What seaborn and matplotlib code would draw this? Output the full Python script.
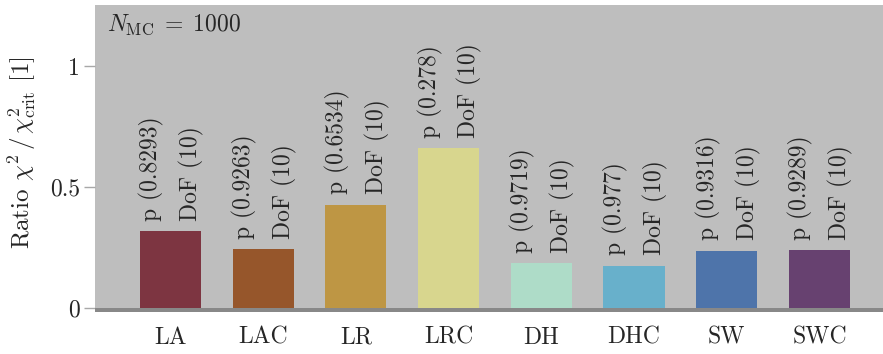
import matplotlib
matplotlib.use("Agg")
import matplotlib.pyplot as plt
import seaborn as sns
import pandas as pd

# Goodness-of-fit summary per model
models = ["LA", "LAC", "LR", "LRC", "DH", "DHC", "SW", "SWC"]
ratios = [0.318, 0.244, 0.426, 0.661, 0.185, 0.174, 0.236, 0.240]
p_values = ["0.8293", "0.9263", "0.6534", "0.278", "0.9719", "0.977", "0.9316", "0.9289"]
dof = [10, 10, 10, 10, 10, 10, 10, 10]
colors = ["#7d3541", "#96562b", "#be9644", "#d8d68e",
          "#aedcc8", "#68b0cb", "#4e74aa", "#674170"]
n_mc = 1000

sns.set_theme(style="white")
plt.rcParams["font.family"] = ["cmr10", "DejaVu Serif"]
plt.rcParams["mathtext.fontset"] = "cm"
plt.rcParams["axes.formatter.use_mathtext"] = True

FS = 17

df = pd.DataFrame({"model": models, "ratio": ratios})

fig = plt.figure(figsize=(8.83, 3.54), dpi=100)
ax = fig.add_axes([0.108, 0.1186, 0.892, 0.8673])
ax.set_facecolor("#bebebe")

sns.barplot(data=df, x="model", y="ratio", hue="model", palette=colors,
            saturation=1, width=0.66, legend=False, ax=ax,
            edgecolor="none", linewidth=0)

ybot = -0.0165
ax.set_ylim(ybot, 1.252)
ax.set_xlim(-0.81, 7.685)
ax.axhspan(ybot, 0, color="#888888", lw=0, zorder=3)

for i, (v, p, d) in enumerate(zip(ratios, p_values, dof)):
    ax.annotate(f"p ({p})", xy=(i - 0.2, v), xytext=(0, 7.5),
                textcoords="offset points", rotation=90,
                ha="center", va="bottom", fontsize=FS)
    ax.annotate(f"DoF ({d})", xy=(i + 0.23, v), xytext=(0, 7.5),
                textcoords="offset points", rotation=90,
                ha="center", va="bottom", fontsize=FS)

for s in ax.spines.values():
    s.set_visible(False)

ax.set_yticks([0, 0.5, 1])
ax.set_yticklabels(["0", "0.5", "1"])
ax.tick_params(axis="y", left=True, length=8, width=1, color="#a8a8a8",
               pad=3, labelsize=FS)
ax.tick_params(axis="x", bottom=False, length=0, pad=10.5, labelsize=FS)

ax.set_xlabel("")
ax.set_ylabel(r"Ratio $\chi^2\,/\,\chi^2_{\rm crit}$ [1]", fontsize=18)
ax.yaxis.set_label_coords(-0.072, 0.52)

ax.text(0.0146, 0.975, r"$N_{\rm MC}\;=\;1000$".replace("1000", str(n_mc)),
        transform=ax.transAxes, ha="left", va="top", fontsize=FS)

fig.savefig("out.png", dpi=100)
